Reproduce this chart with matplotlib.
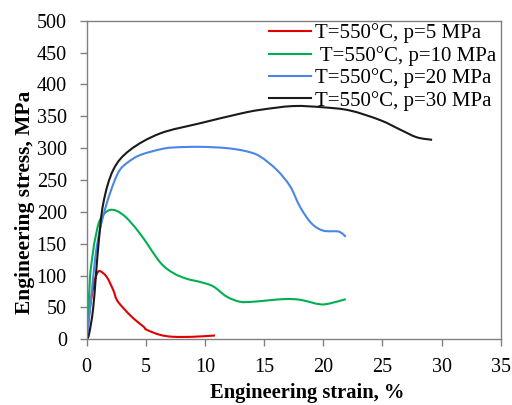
import matplotlib
matplotlib.use("Agg")
import matplotlib.pyplot as plt
from matplotlib.path import Path
from matplotlib.patches import PathPatch
from matplotlib.lines import Line2D

plt.rcParams['font.family'] = ['Liberation Serif', 'DejaVu Serif']

labels = ["T=550°C, p=5 MPa", " T=550°C, p=10 MPa", "T=550°C, p=20 MPa", "T=550°C, p=30 MPa"]
colors = ["#e00000", "#00b050", "#4a86e8", "#1a1a1a"]

red_x = [0, 0.14, 0.56, 0.85, 1.12, 1.69, 2.25, 2.54, 3.1, 3.94, 4.8, 5.07, 6.2, 7.3, 9.0, 10.85]
red_y = [0, 30, 83, 102, 107, 98, 77, 62, 49, 33, 20, 15, 7, 4, 4, 6]

green_x = [0, 0.14, 0.28, 0.56, 0.7, 1.12, 1.97, 3.1, 4.5, 6.2, 7.32, 8.45, 9.58, 10.7, 11.83, 12.96, 14.08, 16.6, 18.03, 19.7, 20.6, 21.9]
green_y = [0, 40, 98, 140, 156, 187, 203, 195, 166, 121, 104, 95, 90, 83, 67, 59, 59, 63, 62, 55, 56.5, 63]

blue_x = [0, 0.14, 0.7, 1.12, 1.69, 2.3, 2.81, 3.5, 4.5, 6.2, 7.32, 9.58, 11.83, 13.5, 14.65, 16.06, 17.2, 18.03, 19.0, 20.0, 21.3, 21.9]
blue_y = [0, 20, 124, 172, 213, 246, 266, 278, 289, 298, 301, 302, 300, 295, 287, 266, 240, 208, 182, 170.5, 169, 161]

black_x = [0, 0.2, 0.56, 0.98, 1.4, 2.25, 3.66, 6.2, 9.58, 12.96, 14.65, 17.46, 20.0, 22.26, 24.8, 26.5, 27.9, 29.2]
black_y = [0, 8, 51, 145, 213, 266, 297, 323, 339, 354, 360, 366, 364, 359, 344, 329, 317, 313]

xs = [red_x, green_x, blue_x, black_x]
ys = [red_y, green_y, blue_y, black_y]


def smooth_path(x, y, t=0.5):
    # Catmull-Rom style smoothing rendered as cubic Bezier segments
    verts = [(x[0], y[0])]
    codes = [Path.MOVETO]
    n = len(x)
    for i in range(n - 1):
        x0, y0 = (x[i - 1], y[i - 1]) if i > 0 else (x[i], y[i])
        x1, y1 = x[i], y[i]
        x2, y2 = x[i + 1], y[i + 1]
        x3, y3 = (x[i + 2], y[i + 2]) if i + 2 < n else (x2, y2)
        c1 = (x1 + (x2 - x0) * t / 3, y1 + (y2 - y0) * t / 3)
        c2 = (x2 - (x3 - x1) * t / 3, y2 - (y3 - y1) * t / 3)
        verts += [c1, c2, (x2, y2)]
        codes += [Path.CURVE4] * 3
    return Path(verts, codes)


fig = plt.figure(figsize=(5.12, 4.05), dpi=100)
ax = fig.add_axes([0.1693, 0.1622, 0.978 - 0.1693, 0.949 - 0.1622])

handles = []
for x, y, c, l in zip(xs, ys, colors, labels):
    ax.add_patch(PathPatch(smooth_path(x, y), facecolor='none', edgecolor=c, lw=1.5))
    handles.append(Line2D([], [], color=c, lw=1.5, label=l))

ax.set_xlim(0, 35)
ax.set_ylim(0, 500)
ax.set_xticks(range(0, 36, 5))
ax.set_yticks(range(0, 501, 50))
ax.tick_params(direction='out', length=4.8, width=1, color='#808080', labelsize=14.5)
ax.tick_params(axis='y', pad=9.5)
ax.tick_params(axis='x', pad=8.5)
for s in ax.spines.values():
    s.set_color('#808080')
    s.set_linewidth(1)

ax.set_xlabel("Engineering strain, %", fontsize=14.8, fontweight='bold')
ax.set_ylabel("Engineering stress, MPa", fontsize=15.5, fontweight='bold')
ax.xaxis.set_label_coords(0.533, -0.17)
ax.yaxis.set_label_coords(-0.148, 0.43)
ax.xaxis.label.set_va('center')
ax.yaxis.label.set_va('center')

ax.legend(handles=handles, loc='upper left', bbox_to_anchor=(0.43, 1.004), frameon=False, fontsize=15,
          handlelength=2.0, handletextpad=0.22, labelspacing=0.12, borderpad=0.2, borderaxespad=0)

fig.savefig("out.png", dpi=100)
